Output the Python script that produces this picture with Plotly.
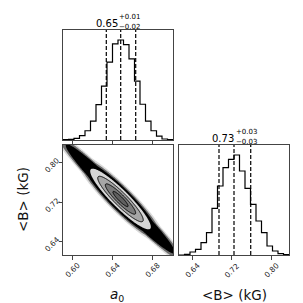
import numpy as np
import plotly.graph_objects as go

W = H = 303

# ---------------- data ----------------
a0_range = [0.591, 0.701]
B_range = [0.613, 0.836]

a0_counts = [1, 2, 5, 13, 28, 57, 107, 163, 235, 290, 302, 288, 245, 178, 108, 57, 28, 12, 3, 1]
B_counts = [0, 2, 9, 17, 37, 67, 140, 207, 262, 287, 300, 252, 200, 152, 102, 67, 27, 12, 4, 1]

a0_quantiles = [0.6343, 0.6487, 0.6637]
B_quantiles = [0.6941, 0.7245, 0.7584]

a0_title = ["0.65", "+0.01", "\u22120.02"]
B_title = ["0.73", "+0.03", "\u22120.03"]

a0_ticks = [0.60, 0.64, 0.68]
a0_ticklabels = ["0.60", "0.64", "0.68"]
B_ticks = [0.64, 0.72, 0.80]
B_ticklabels = ["0.64", "0.72", "0.80"]

# 2D posterior summary (mean, spread, correlation)
a0_mean, B_mean = 0.6485, 0.7265
a0_sd, B_sd = 0.01516, 0.03075
rho = -0.919
# elongated tails of the sample cloud (reach the panel corners)
tail_a0_sd, tail_B_sd = 0.01564, 0.0317
tail_rho = -0.978
cloud_core_r, cloud_tail_r = 2.45, 3.5

# contour levels and fills
cloud_levels = [1.25, 1.12, 1.0]
cloud_fill = ["rgba(0,0,0,0.15)", "rgba(0,0,0,0.5)", "rgba(0,0,0,1)"]
band_r = [2.0, 1.5, 1.0, 0.5]
band_fill = ["#d6d6d6", "#a6a6a6", "#7a7a7a", "#606060"]
band_line = [0, 1.0, 1.0, 1.0]

# ---------------- layout geometry (pixels) ----------------
def px_x(p):
    return p / W

def px_y(p):
    return 1 - p / H

colL = [px_x(55), px_x(165)]
colR = [px_x(171), px_x(281)]
rowT = [px_y(132), px_y(22)]
rowB = [px_y(247), px_y(137)]

fig = go.Figure()

def step_xy(counts, rng):
    edges = np.linspace(rng[0], rng[1], len(counts) + 1)
    xs = [edges[0]] + list(edges) + [edges[-1]]
    ys = [0] + list(counts) + [counts[-1], 0]
    return xs, ys

# top-left histogram (a0)
xs, ys = step_xy(a0_counts, a0_range)
fig.add_trace(go.Scatter(x=xs, y=ys, mode="lines", line=dict(color="black", width=1.2, shape="hv"),
                         xaxis="x", yaxis="y", showlegend=False, hoverinfo="skip"))
a0_ymax = 1.1 * max(a0_counts)
for q in a0_quantiles:
    fig.add_trace(go.Scatter(x=[q, q], y=[0, a0_ymax], mode="lines",
                             line=dict(color="black", width=1.2, dash="4px,2px"),
                             xaxis="x", yaxis="y", showlegend=False, hoverinfo="skip"))

# bottom-right histogram (B)
xs, ys = step_xy(B_counts, B_range)
fig.add_trace(go.Scatter(x=xs, y=ys, mode="lines", line=dict(color="black", width=1.2, shape="hv"),
                         xaxis="x3", yaxis="y3", showlegend=False, hoverinfo="skip"))
B_ymax = 1.1 * max(B_counts)
for q in B_quantiles:
    fig.add_trace(go.Scatter(x=[q, q], y=[0, B_ymax], mode="lines",
                             line=dict(color="black", width=1.2, dash="4px,2px"),
                             xaxis="x3", yaxis="y3", showlegend=False, hoverinfo="skip"))

# 2D panel
gx = np.linspace(a0_range[0], a0_range[1], 300)
gy = np.linspace(B_range[0], B_range[1], 300)
X, Y = np.meshgrid(gx, gy)

def mahal(sx, sy, r):
    u = (X - a0_mean) / sx
    v = (Y - B_mean) / sy
    return np.sqrt((u * u - 2 * r * u * v + v * v) / (1 - r * r))

R = mahal(a0_sd, B_sd, rho)
Rt = mahal(tail_a0_sd, tail_B_sd, tail_rho)
Zc = np.minimum(R / cloud_core_r, Rt / cloud_tail_r)

for lev, fc in zip(cloud_levels, cloud_fill):
    fig.add_trace(go.Contour(
        x=gx, y=gy, z=Zc, xaxis="x2", yaxis="y2",
        contours=dict(type="constraint", operation=">", value=lev),
        fillcolor=fc, line=dict(color=fc, width=0.01, smoothing=1.0),
        showscale=False, hoverinfo="skip", showlegend=False))

for r, fc, lw in zip(band_r, band_fill, band_line):
    fig.add_trace(go.Contour(
        x=gx, y=gy, z=R, xaxis="x2", yaxis="y2",
        contours=dict(type="constraint", operation=">", value=r),
        fillcolor=fc,
        line=dict(color="black" if lw else fc, width=lw if lw else 0.01, smoothing=1.0),
        showscale=False, hoverinfo="skip", showlegend=False))

axis_common = dict(showline=True, mirror=True, linecolor="#444", linewidth=1,
                   showgrid=False, zeroline=False, ticks="outside", ticklen=3.5,
                   tickcolor="#444", tickwidth=1, showticklabels=False)

fig.update_layout(
    width=W, height=H, margin=dict(l=0, r=0, t=0, b=0),
    paper_bgcolor="white", plot_bgcolor="white",
    xaxis=dict(domain=colL, range=a0_range, anchor="y", tickvals=a0_ticks, **axis_common),
    yaxis=dict(domain=rowT, range=[0, a0_ymax], anchor="x",
               **{**axis_common, "ticks": ""}),
    xaxis2=dict(domain=colL, range=a0_range, anchor="y2", tickvals=a0_ticks, **axis_common),
    yaxis2=dict(domain=rowB, range=B_range, anchor="x2", tickvals=B_ticks, **axis_common),
    xaxis3=dict(domain=colR, range=B_range, anchor="y3", tickvals=B_ticks, **axis_common),
    yaxis3=dict(domain=rowB, range=[0, B_ymax], anchor="x3",
                **{**axis_common, "ticks": ""}),
    font=dict(family="DejaVu Sans", color="#111"),
)

ann = []
tick_font = dict(family="DejaVu Sans", size=7.5, color="#222")
# x tick labels (rotated 45 deg, centred under tick)
for t, lab in zip(a0_ticks, a0_ticklabels):
    ann.append(dict(x=t, xref="x2", y=px_y(262), yref="paper", text=lab, showarrow=False,
                    textangle=-45, font=tick_font, xanchor="center", yanchor="middle"))
for t, lab in zip(B_ticks, B_ticklabels):
    ann.append(dict(x=t, xref="x3", y=px_y(262), yref="paper", text=lab, showarrow=False,
                    textangle=-45, font=tick_font, xanchor="center", yanchor="middle"))
# y tick labels on 2D panel
for t, lab in zip(B_ticks, B_ticklabels):
    ann.append(dict(x=px_x(44), xref="paper", y=t, yref="y2", yshift=-3, text=lab, showarrow=False,
                    textangle=-45, font=tick_font, xanchor="center", yanchor="middle"))

lab_font = dict(family="DejaVu Sans", size=13.5, color="#111")
ann.append(dict(x=px_x(109), y=px_y(287), xref="paper", yref="paper",
                text="<i>a</i><sub>0</sub>", showarrow=False, font=lab_font,
                xanchor="center", yanchor="middle"))
ann.append(dict(x=px_x(226), y=px_y(287), xref="paper", yref="paper",
                text="&lt;B&gt; (kG)", showarrow=False, font=lab_font,
                xanchor="center", yanchor="middle"))
ann.append(dict(x=px_x(15), y=px_y(192), xref="paper", yref="paper",
                text="&lt;B&gt; (kG)", showarrow=False, font=lab_font, textangle=-90,
                xanchor="center", yanchor="middle"))

# titles with stacked super/subscripts
def add_title(parts, xc, top):
    main_f = dict(family="DejaVu Sans", size=10, color="#000")
    small_f = dict(family="DejaVu Sans", size=7, color="#000")
    ann.append(dict(x=px_x(xc + 0.7), y=px_y(top - 7), xref="paper", yref="paper", text=parts[0],
                    showarrow=False, font=main_f, xanchor="right", yanchor="middle", borderpad=0))
    ann.append(dict(x=px_x(xc + 0.5), y=px_y(top - 8.3), xref="paper", yref="paper", text=parts[1],
                    showarrow=False, font=small_f, xanchor="left", yanchor="bottom", borderpad=0))
    ann.append(dict(x=px_x(xc + 0.5), y=px_y(top - 8.3), xref="paper", yref="paper", text=parts[2],
                    showarrow=False, font=small_f, xanchor="left", yanchor="top", borderpad=0))

add_title(a0_title, 110, 22)
add_title(B_title, 226, 137)

fig.update_layout(annotations=ann)
fig.write_html("out.html")
